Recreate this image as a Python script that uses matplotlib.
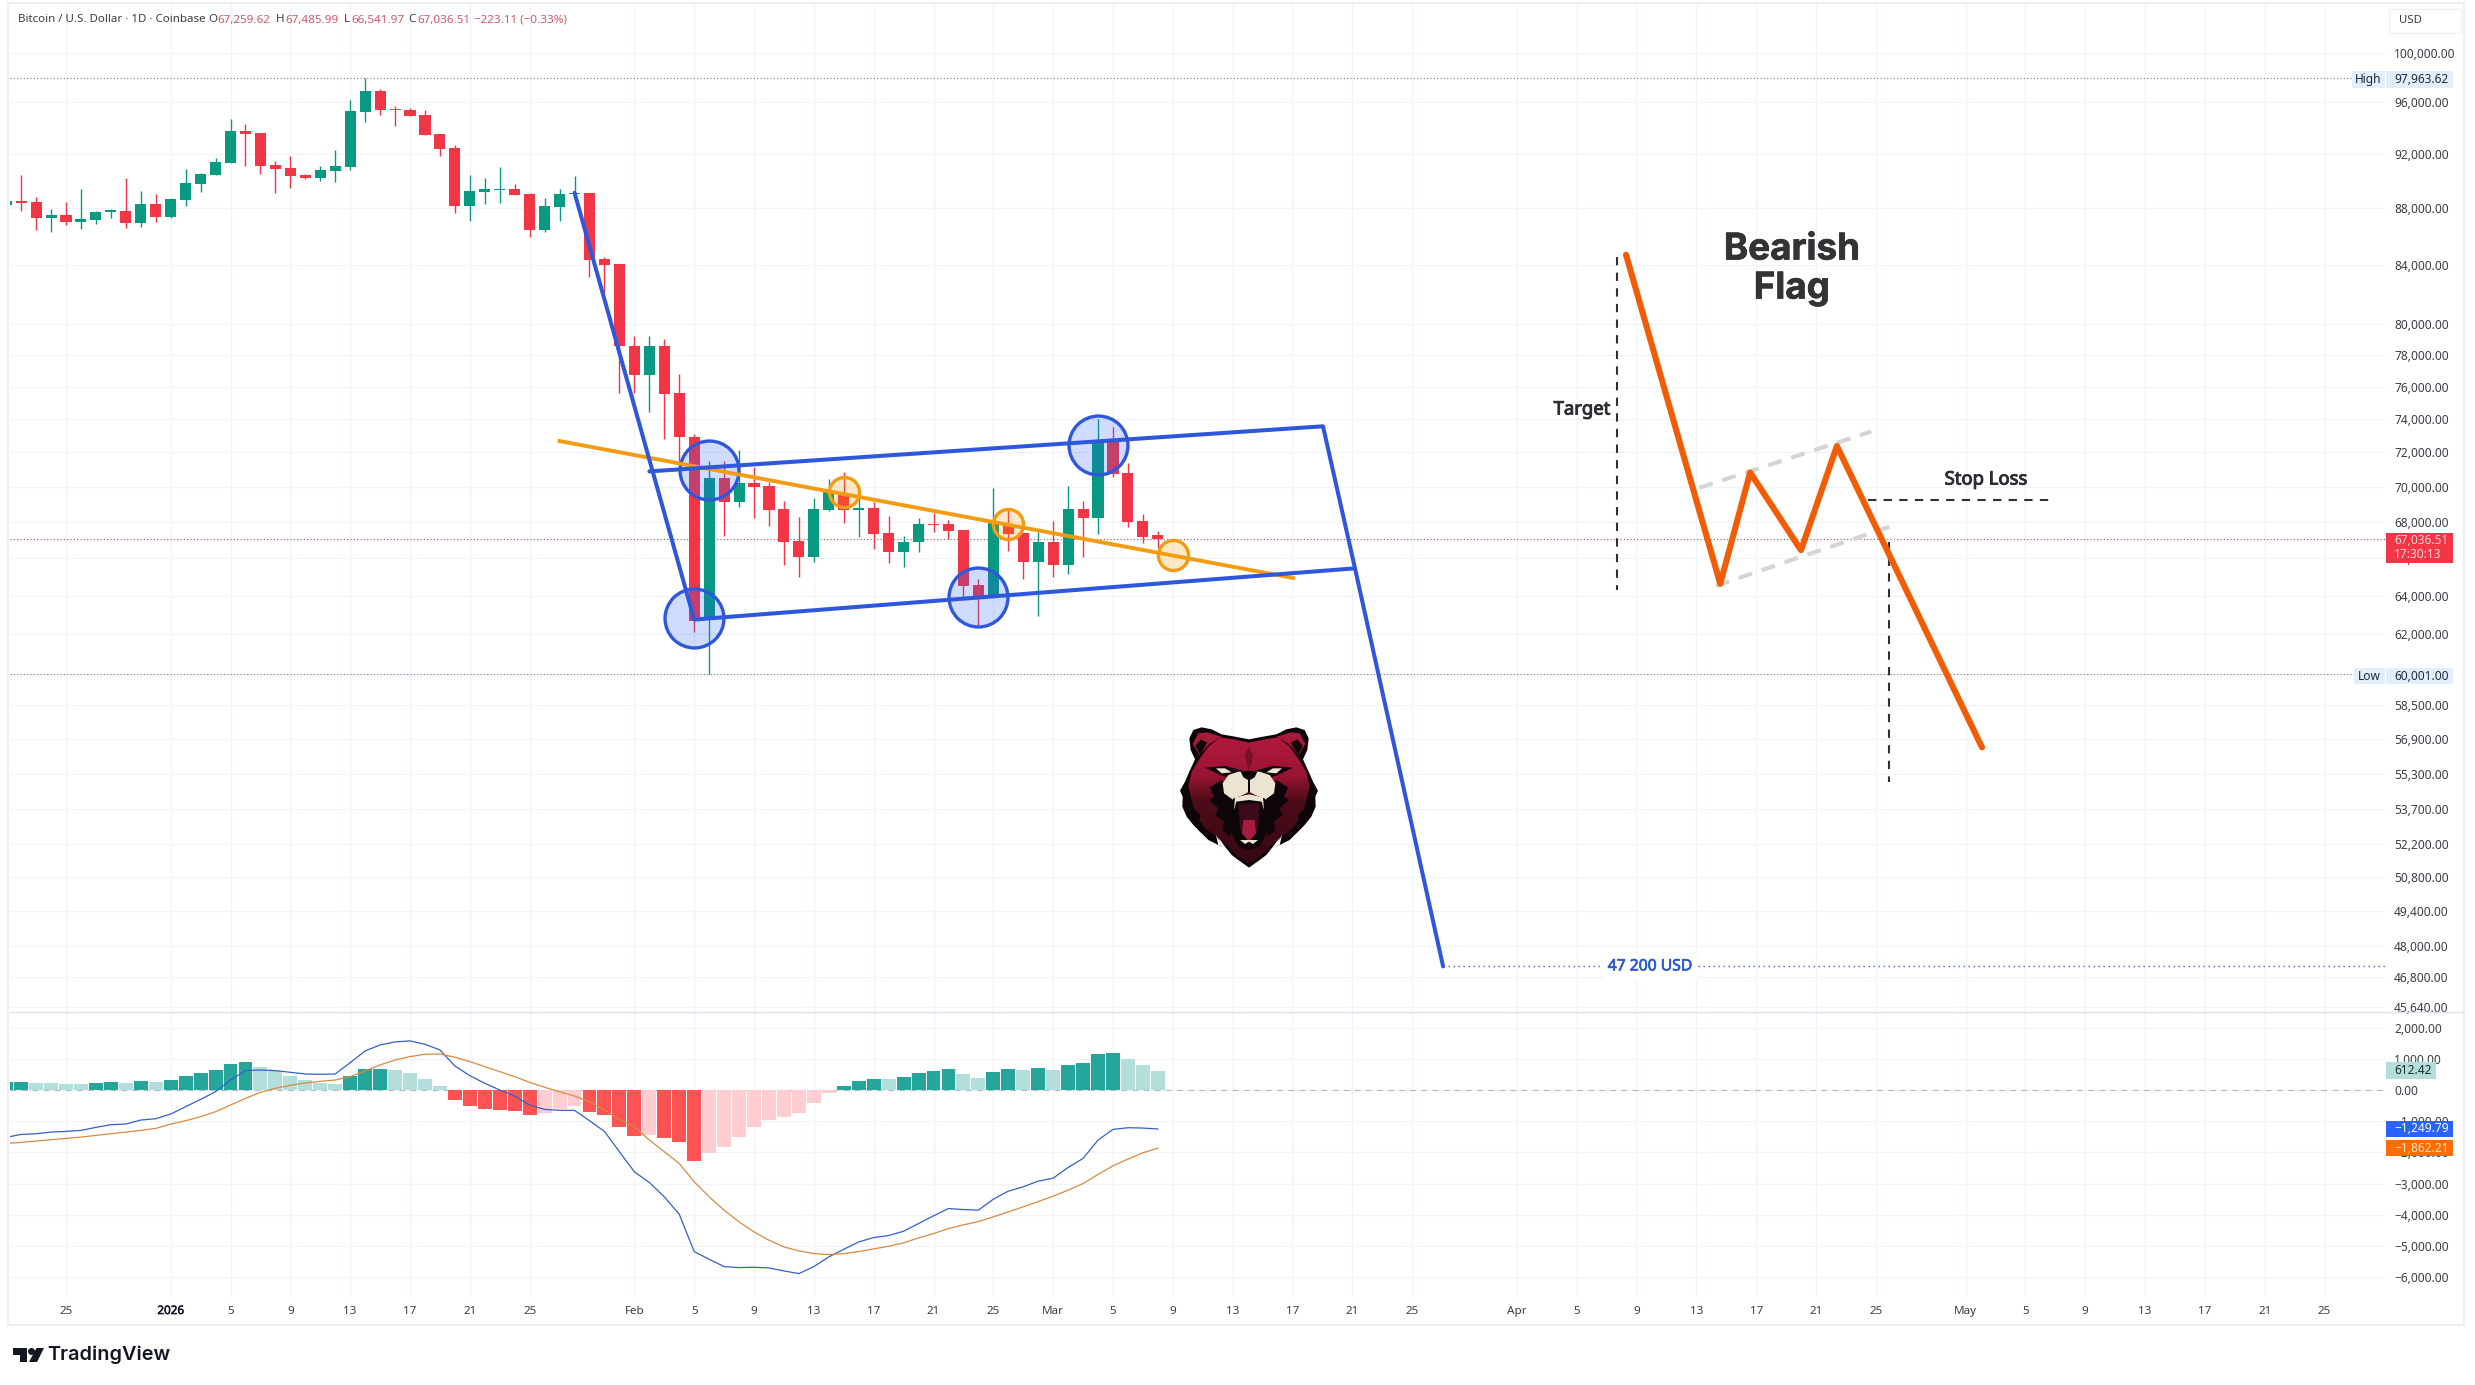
"""
Bitcoin daily chart with bearish flag drawing and MACD pane
"""

import matplotlib

matplotlib.use("Agg")

import matplotlib.patheffects as pe
import matplotlib.pyplot as plt
import numpy as np
from matplotlib.patches import Circle, PathPatch, Polygon, Rectangle
from matplotlib.path import Path
from matplotlib.ticker import FixedLocator, FuncFormatter, NullLocator

plt.rcParams["font.family"] = ["Noto Sans", "DejaVu Sans"]

# days are counted from 2026-01-01, first bar is 2025-12-21
first_day = -11

opens = [88212,
         88526, 88453, 87298, 87512, 87036, 87155, 87754, 87803, 86941, 88308,
         87369, 88598, 89771, 90438, 91334, 93768, 93613, 91183, 90959, 90438,
         90215, 90735, 91033, 95243, 96900, 95505, 95374, 95007, 93536, 92467,
         88164, 89184, 89331, 89405, 89038, 86442, 88092, 89062, 89129, 84415,
         84047, 78589, 76741, 78589, 75622, 72916, 62856, 70479, 69147, 70233,
         70028, 68739, 66928, 66097, 68699, 69659, 68699, 68799, 67405, 66327,
         66868, 67902, 67882, 67564, 64577, 63975, 67843, 67405, 65783, 66908,
         65648, 68739, 68242, 72683, 70786, 68042, 67259.62]
highs = [88598,
         90438, 88842, 87923, 88477, 89405, 87827, 87971, 90240, 89258, 89038,
         88720, 90884, 90586, 91711, 94670, 94283, 93613, 91485, 91862, 90512,
         91108, 92314, 96186, 97963.62, 97060, 95714, 95531, 95400, 93536, 92700,
         90438, 90215, 91033, 89771, 89112, 88744, 89405, 90368, 89129, 84537,
         84047, 79211, 79211, 79027, 76786, 73109, 71518, 71522, 72156, 71142,
         70274, 69187, 68282, 69352, 70438, 70827, 69352, 69147, 68326, 67206,
         68242, 68532, 68122, 67564, 64915, 69945, 68739, 67405, 67445, 68082,
         70069, 69208, 74020, 73542, 71373, 68429, 67485.99]
lows = [88116,
        87827, 86442, 86323, 86799, 86490, 86870, 87298, 86585, 86656, 87036,
        87298, 88164, 89184, 90438, 91334, 91108, 90512, 89112, 89478, 90141,
        89994, 89920, 90810, 94464, 95007, 94155, 94930, 93460, 91862, 87658,
        87084, 88308, 88380, 88964, 85942, 86299, 87084, 89038, 83189, 82092,
        75576, 75576, 74458, 72831, 71522, 62126, 60001, 67246, 68839, 68202,
        67803, 65648, 65012, 65783, 68640, 67962, 67186, 66520, 65764, 65551,
        66365, 67445, 67047, 63882, 62491, 63975, 66424, 64915, 62947, 64973,
        65166, 66076, 67346, 70581, 67703, 66848, 66541.97]
closes = [88502,
          88405, 87298, 87512, 87036, 87226, 87730, 87851, 86941, 88308, 87369,
          88671, 89845, 90512, 91409, 93768, 93536, 91108, 90884, 90364, 90215,
          90810, 91108, 95320, 96900, 95400, 95426, 94930, 93460, 92390, 88164,
          89258, 89405, 89405, 88964, 86442, 88164, 89038, 89135, 84366, 84000,
          78566, 76741, 78589, 75555, 72895, 62674, 70479, 69147, 70233, 70007,
          68699, 66908, 66097, 68739, 69762, 68699, 68799, 67346, 66327, 66888,
          67882, 67823, 67505, 64539, 63975, 67942, 67346, 65783, 66908, 65648,
          68739, 68242, 72683, 70745, 68002, 67146, 67036.51]

macd_hist = [257,
             257, 225, 225, 193, 193, 225, 257, 225, 289, 257,
             321, 449, 546, 642, 835, 899, 738, 610, 449, 321,
             225, 193, 449, 674, 674, 642, 546, 353, 128, -321,
             -514, -610, -642, -674, -803, -738, -610, -514, -706, -803,
             -1188, -1477, -1445, -1541, -1669, -2279, -2022, -1830, -1509, -1188,
             -963, -867, -738, -417, -96, 128, 289, 353, 353, 417,
             546, 610, 674, 514, 385, 578, 674, 642, 706, 642,
             803, 867, 1156, 1188, 995, 803, 612.42]
# D = strong colour, L = pale colour
hist_shade = "DDLLLLDDLDLDDDDDDLLLLLLDDDLLLLDDDDDDLLLDDDDLDDDLLLLLLLLLDDDLDDDDLLDDLDLDDDDLLL"
macd_line = [-1519,
             -1423, -1402, -1348, -1327, -1295, -1198, -1113, -1091, -963, -920,
             -770, -535, -300, -54, 321, 621, 642, 621, 567, 514,
             503, 514, 877, 1252, 1445, 1541, 1573, 1466, 1284, 770,
             460, 214, 0, -193, -482, -621, -653, -653, -984, -1327,
             -1980, -2622, -2964, -3424, -3980, -5179, -5425, -5660, -5692, -5682,
             -5703, -5799, -5885, -5660, -5350, -5104, -4869, -4729, -4665, -4526,
             -4280, -4034, -3799, -3831, -3852, -3499, -3242, -3103, -2921, -2825,
             -2482, -2194, -1605, -1263, -1209, -1220, -1249.79]
signal_line = [-1712,
               -1680, -1637, -1594, -1552, -1509, -1455, -1402, -1348, -1295, -1231,
               -1091, -984, -856, -696, -482, -268, -75, 54, 150, 225,
               278, 321, 428, 610, 803, 963, 1070, 1145, 1156, 1049,
               910, 749, 589, 428, 246, 86, -54, -193, -375, -642,
               -942, -1177, -1605, -1980, -2354, -2943, -3424, -3852, -4227, -4548,
               -4815, -5029, -5157, -5243, -5275, -5243, -5179, -5093, -5008, -4901,
               -4740, -4601, -4441, -4323, -4216, -4066, -3906, -3745, -3574, -3403,
               -3210, -2996, -2707, -2429, -2215, -2012, -1862.21]

price_ticks = [100000, 96000, 92000, 88000, 84000, 80000, 78000, 76000, 74000,
               72000, 70000, 68000, 66000, 64000, 62000, 60000, 58500, 56900,
               55300, 53700, 52200, 50800, 49400, 48000, 46800, 45640]
macd_ticks = [2000, 1000, 0, -1000, -2000, -3000, -4000, -5000, -6000]
date_ticks = [-7, 0, 4, 8, 12, 16, 20, 24, 31, 35, 39, 43, 47, 51, 55, 59, 63, 67,
              71, 75, 79, 83, 90, 94, 98, 102, 106, 110, 114, 120, 124, 128, 132,
              136, 140, 144]
date_labels = ["25", "2026", "5", "9", "13", "17", "21", "25", "Feb", "5", "9", "13",
               "17", "21", "25", "Mar", "5", "9", "13", "17", "21", "25", "Apr", "5",
               "9", "13", "17", "21", "25", "May", "5", "9", "13", "17", "21", "25"]

high_price = 97963.62
low_price = 60001.00
last_price = 67036.51
target_price = 47200

# drawings: (day, price)
impulse_path = [(27, 89129), (35, 62765), (79.18, 65463), (85.07, target_price)]
flag_upper = [(32, 70890), (77.04, 73566), (79.18, 65463)]
orange_trend = [(26.0, 72680), (75.04, 64945)]
blue_circles = [(36, 70994), (35, 62856), (54, 63938), (62, 72470)]
orange_circles = [(45, 69721), (56, 67902), (67, 66174)]

pattern_path = [(97.3, 84706), (103.6, 64636), (105.6, 70825), (109.0, 66446),
                (111.4, 72384), (121.1, 56508)]
pattern_upper = [(102.2, 69940), (113.7, 73250)]
pattern_lower = [(103.3, 64530), (115.1, 67790)]
target_guide = [(96.7, 84577), (96.7, 64326)]
stop_guide = [(113.5, 69245), (125.6, 69245)]
drop_guide = [(114.9, 66910), (114.9, 54937)]

BLUE = "#2f57dc"
ORANGE = "#f39c12"
DEEP_ORANGE = "#f25c05"
RED = "#f23645"
GREEN = "#089981"
GRID = "#f0f3fa"
TEXT = "#3a3d45"
TICK_SIZE = 8.6

W, H = 2475, 1385
LEFT, RIGHT, TOP, SPLIT, BOTTOM = 10, 2385, 5, 1012, 1297
TAG_L, TAG_R, LABEL_X = 2386, 2453, 2394


def price_at(y):
    return 100000 * np.exp(-(y - 52.7) / 1217)


def macd_at(y):
    return (1090 - y) / 0.0312


def day_at(x):
    return (x - 170.7) / 14.957


def add_axes_px(x0, y0, x1, y1, **kwargs):
    return fig.add_axes([x0 / W, 1 - y1 / H, (x1 - x0) / W, (y1 - y0) / H], **kwargs)


def heavy(width, color):
    # the installed variable fonts do not always give a real bold
    return [pe.withStroke(linewidth=width, foreground=color)]


fig = plt.figure(figsize=(W / 100, H / 100), dpi=100, facecolor="white")

ax = add_axes_px(LEFT, TOP, RIGHT, SPLIT)
ax2 = add_axes_px(LEFT, SPLIT, RIGHT, BOTTOM)

# price pane
days = np.arange(first_day, first_day + len(opens))
opens_a, closes_a = np.array(opens), np.array(closes)
up = closes_a >= opens_a
colors = np.where(up, GREEN, RED)

ax.set_yscale("log")
ax.vlines(days, lows, highs, colors=colors, linewidth=1.0, zorder=3)
ax.bar(days, np.maximum(np.abs(closes_a - opens_a), 60), bottom=np.minimum(opens_a, closes_a),
       width=0.74, color=colors, linewidth=0, zorder=3)

ax.set_xlim(day_at(LEFT), day_at(RIGHT))
ax.set_ylim(price_at(SPLIT), price_at(TOP))
ax.yaxis.set_major_locator(FixedLocator(price_ticks))
ax.yaxis.set_minor_locator(NullLocator())
ax.yaxis.set_major_formatter(FuncFormatter(lambda v, _: f"{v:,.2f}"))
ax.yaxis.tick_right()
ax.set_xticks(date_ticks)
ax.tick_params(axis="x", length=0, labelbottom=False)
ax.tick_params(axis="y", length=0, labelsize=TICK_SIZE, labelcolor=TEXT, pad=6.5)
ax.grid(True, color=GRID, linewidth=0.9, zorder=0)
ax.set_axisbelow(True)
for s in ax.spines.values():
    s.set_visible(False)

ax.axhline(high_price, color="#787b86", linewidth=0.8, linestyle=(0, (1, 2)), zorder=2)
ax.axhline(low_price, color="#787b86", linewidth=0.8, linestyle=(0, (1, 2)), zorder=2)
ax.axhline(last_price, color="#a0505c", linewidth=0.8, linestyle=(0, (1, 2)), zorder=2)

ax.scatter(*zip(*blue_circles), s=1800, facecolor=(0.16, 0.38, 1.0, 0.22), edgecolor=BLUE,
           linewidth=2.4, zorder=4)
ax.scatter(*zip(*orange_circles), s=470, facecolor=(1.0, 0.6, 0.0, 0.22), edgecolor=ORANGE,
           linewidth=2.4, zorder=4)

ax.plot(*zip(*orange_trend), color=ORANGE, linewidth=2.8, zorder=5)
for path in (impulse_path, flag_upper):
    ax.plot(*zip(*path), color=BLUE, linewidth=2.9, zorder=6,
            solid_capstyle="round", solid_joinstyle="round")

ax.plot([impulse_path[-1][0], day_at(RIGHT)], [target_price, target_price], color="#4a66a8",
        linewidth=1.0, linestyle=(0, (1, 2.6)), zorder=5)
ax.text(day_at(1650), target_price, "47 200 USD", color="#2a5bd0", fontsize=11.3,
        fontweight="bold", ha="center", va="center", zorder=6,
        path_effects=heavy(0.5, "#2a5bd0"),
        bbox=dict(facecolor="white", edgecolor="none", pad=3))

# the pattern sketch on the right
ax.plot(*zip(*pattern_upper), color="#d5d5d5", linewidth=3, linestyle=(0, (3.4, 2.4)), zorder=4)
ax.plot(*zip(*pattern_lower), color="#d5d5d5", linewidth=3, linestyle=(0, (3.4, 2.4)), zorder=4)
for guide in (target_guide, stop_guide, drop_guide):
    ax.plot(*zip(*guide), color="#2e3036", linewidth=1.5, linestyle=(0, (4, 3.5)), zorder=5)
ax.plot(*zip(*pattern_path), color=DEEP_ORANGE, linewidth=4.4, zorder=5,
        solid_capstyle="round", solid_joinstyle="round")

# MACD pane
hist_colors = []
for value, shade in zip(macd_hist, hist_shade):
    if value >= 0:
        hist_colors.append("#26a69a" if shade == "D" else "#b2dfdb")
    else:
        hist_colors.append("#ff5252" if shade == "D" else "#ffcdd2")
ax2.bar(days, macd_hist, width=0.93, color=hist_colors, linewidth=0, zorder=3)
ax2.plot(days, macd_line, color="#3560c8", linewidth=0.9, zorder=4)
ax2.plot(days, signal_line, color="#d98a3f", linewidth=0.9, zorder=4)
ax2.axhline(0, color="#b5b8c0", linewidth=0.8, linestyle=(0, (5, 5)), zorder=2)

ax2.set_xlim(day_at(LEFT), day_at(RIGHT))
ax2.set_ylim(macd_at(BOTTOM), macd_at(SPLIT))
ax2.yaxis.set_major_locator(FixedLocator(macd_ticks))
ax2.yaxis.set_major_formatter(FuncFormatter(lambda v, _: f"{v:,.2f}".replace("-", "\u2212")))
ax2.yaxis.tick_right()
ax2.set_xticks(date_ticks)
ax2.set_xticklabels(date_labels)
ax2.tick_params(axis="x", length=0, labelsize=8.4, labelcolor=TEXT, pad=6.5)
ax2.tick_params(axis="y", length=0, labelsize=TICK_SIZE, labelcolor=TEXT, pad=6.5)
for label in ax2.get_xticklabels():
    if label.get_text() == "2026":
        label.set_color("#131722")
        label.set_path_effects(heavy(0.4, "#131722"))
ax2.grid(True, color=GRID, linewidth=0.9, zorder=0)
ax2.set_axisbelow(True)
for s in ax2.spines.values():
    s.set_visible(False)

# overlay in pixel coordinates for frame, tags and captions
px = fig.add_axes([0, 0, 1, 1], zorder=10)
px.set_xlim(0, W)
px.set_ylim(H, 0)
px.axis("off")
px.patch.set_alpha(0)

for x0, y0, x1, y1 in [(LEFT - 2, 3, 2464, 3), (2464, 3, 2464, 1325), (LEFT - 2, 1325, 2464, 1325),
                       (LEFT - 2, 3, LEFT - 2, 1325)]:
    px.plot([x0, x1], [y0, y1], color="#eef0f5", linewidth=1.6)
px.plot([LEFT, 2464], [SPLIT, SPLIT], color="#e0e3eb", linewidth=1.0)


def tag(x0, x1, y0, y1, text, face, color):
    px.add_patch(Rectangle((x0, y0), x1 - x0, y1 - y0, facecolor=face, edgecolor="none", zorder=3))
    on_axis = x0 >= TAG_L
    px.text(LABEL_X if on_axis else (x0 + x1) / 2, (y0 + y1) / 2, text, color=color, fontsize=TICK_SIZE,
            ha="left" if on_axis else "center", va="center", zorder=4)


tag(2352, 2385, 71, 87.5, "High", "#e3eefb", "#1f2a44")
tag(TAG_L, TAG_R, 71, 87.5, "97,963.62", "#e3eefb", "#1f2a44")
tag(2354, 2385, 668, 684, "Low", "#e3eefb", "#1f2a44")
tag(TAG_L, TAG_R, 668, 684, "60,001.00", "#e3eefb", "#1f2a44")
tag(TAG_L, TAG_R, 533, 563, "", RED, "white")
px.text(LABEL_X, 541, "67,036.51", color="#ffd5da", fontsize=TICK_SIZE, va="center", zorder=4)
px.text(LABEL_X, 555, "17:30:13", color="#ffd5da", fontsize=TICK_SIZE, va="center", zorder=4)
tag(TAG_L, 2436, 1062, 1079, "612.42", "#b2dfdb", "#1f2a2a")
tag(TAG_L, TAG_R, 1121, 1137, "\u22121,249.79", "#2962ff", "white")
tag(TAG_L, TAG_R, 1140, 1156, "\u22121,862.21", "#ff6d00", "#ffe5d0")

px.add_patch(Rectangle((2389, 9), 72, 24, facecolor="white", edgecolor="#f0f1f4", linewidth=1))
px.text(2399, 20.5, "USD", color=TEXT, fontsize=8.2, va="center")

# legend line on top
px.text(18, 20, "Bitcoin / U.S. Dollar \u00b7 1D \u00b7 Coinbase", color=TEXT, fontsize=8.3, va="center")
for x, letter in [(208, "O"), (276, "H"), (344, "L"), (408.5, "C")]:
    px.text(x, 20, letter, color=TEXT, fontsize=8.3, va="center")
for x, value in [(217, "67,259.62"), (285, "67,485.99"), (351, "66,541.97"), (417, "67,036.51"),
                 (474, "\u2212223.11 (\u22120.33%)")]:
    px.text(x, 20, value, color="#d8566a", fontsize=8.4, va="center")

# captions of the pattern
px.text(1791.8, 250, "Bearish", color="#333336", fontsize=26.5, fontweight="bold", family="Inter",
        ha="center", va="center", path_effects=heavy(0.5, "#333336"))
px.text(1791.8, 289, "Flag", color="#333336", fontsize=26.5, fontweight="bold", family="Inter",
        ha="center", va="center", path_effects=heavy(0.5, "#333336"))
px.text(1582, 409.5, "Target", color="#2b2d33", fontsize=13.3, fontweight="bold", ha="center", va="center",
        path_effects=heavy(0.7, "#2b2d33"))
px.text(1986, 479.5, "Stop Loss", color="#2b2d33", fontsize=13.3, fontweight="bold", ha="center", va="center",
        path_effects=heavy(0.7, "#2b2d33"))

# the clipped date label at the left border
clipped = px.text(6, 1311.7, "21", color=TEXT, fontsize=8.4, ha="center", va="center", clip_on=True)
clipped.set_clip_path(Rectangle((LEFT, 1295), 30, 30, transform=px.transData))

# TradingView mark
px.add_patch(Polygon([(13, 1348), (27, 1348), (27, 1362), (20, 1362), (20, 1355), (13, 1355)],
                     facecolor="#131722", edgecolor="none"))
px.add_patch(Circle((31.5, 1351.5), 3.5, facecolor="#131722", edgecolor="none"))
px.add_patch(Polygon([(36.5, 1348), (44, 1348), (37, 1362), (29, 1362)], facecolor="#131722", edgecolor="none"))
px.text(47, 1355, "TradingView", color="#131722", fontsize=14.3, fontweight="semibold", family="Inter",
        va="center")

# bear logo, coordinates of the crop are 3x
bear = add_axes_px(1150, 700, 1370, 900, zorder=8)
bear.set_xlim(0, 660)
bear.set_ylim(600, 0)
bear.axis("off")
bear.patch.set_alpha(0)


def both_sides(half):
    return half + [(594 - x, y) for x, y in reversed(half)]


def shape(points, color, mirror=True, z=2):
    if mirror:
        bear.add_patch(Polygon(points, facecolor=color, edgecolor="none", zorder=z))
        bear.add_patch(Polygon([(594 - x, y) for x, y in points], facecolor=color, edgecolor="none", zorder=z))
    else:
        bear.add_patch(Polygon(both_sides(points), facecolor=color, edgecolor="none", zorder=z))


shape([(297, 118), (255, 110), (215, 103), (185, 88), (155, 82), (130, 90), (118, 115), (122, 150),
       (135, 178), (118, 215), (105, 245), (90, 272), (98, 290), (97, 320), (110, 350), (130, 375),
       (155, 400), (175, 420), (215, 440), (200, 405), (225, 440), (245, 465), (262, 478), (297, 503)],
      "#0d0507", mirror=False, z=1)
shape([(128, 132), (145, 100), (170, 97), (215, 110), (178, 132), (148, 165)], "#a81a3a")
shape([(136, 138), (152, 118), (172, 128), (150, 165)], "#120608", z=3)

face_half = [(297, 128), (250, 118), (210, 112), (175, 140), (150, 175), (125, 215), (115, 260),
             (125, 300), (135, 340), (165, 385), (205, 415), (235, 440), (262, 468), (297, 490)]
face_path = Path(both_sides(face_half) + [face_half[0]], closed=True)
ramp = np.array([[0.70, 0.10, 0.24], [0.60, 0.08, 0.20], [0.30, 0.05, 0.10], [0.20, 0.03, 0.07]])
rows = np.interp(np.linspace(0, 1, 200), [0, 0.3, 0.5, 1], [0, 1, 2, 3])
img = np.zeros((200, 1, 3))
for c in range(3):
    img[:, 0, c] = np.interp(rows, [0, 1, 2, 3], ramp[:, c])
grad = bear.imshow(img, extent=(90, 500, 500, 110), aspect="auto", zorder=2)
grad.set_clip_path(PathPatch(face_path, transform=bear.transData))
bear.set_xlim(0, 660)
bear.set_ylim(600, 0)

# black fur down the cheeks
shape([(215, 240), (180, 262), (192, 290), (178, 300), (205, 325), (195, 345), (222, 365), (218, 390),
       (240, 410), (258, 300)], "#0d0507", z=3)
shape([(125, 320), (150, 345), (148, 375), (175, 392), (185, 420), (150, 395), (125, 360)], "#0d0507", z=3)
shape([(165, 203), (225, 198), (280, 212), (297, 225), (297, 240), (240, 235), (210, 225)], "#14060a", z=3)
shape([(297, 140), (285, 165), (290, 190), (297, 210), (303, 190), (309, 165)], "#7a1028", mirror=False, z=3)
shape([(198, 205), (225, 205), (245, 217), (215, 220)], "#efe6d8", z=4)
shape([(297, 215), (265, 215), (235, 225), (218, 250), (222, 280), (250, 300), (297, 275)], "#ece3d0",
      mirror=False, z=4)
shape([(297, 212), (272, 215), (280, 232), (294, 240), (294, 275), (297, 278)], "#0d0507", mirror=False, z=5)
shape([(297, 280), (250, 295), (235, 340), (245, 400), (265, 440), (297, 450)], "#0d0507", mirror=False, z=5)
shape([(297, 283), (255, 292), (252, 330), (259, 305), (297, 300)], "#ece3d0", mirror=False, z=6)
shape([(297, 310), (265, 310), (270, 390), (297, 415)], "#3c0a18", mirror=False, z=6)
shape([(297, 360), (280, 360), (276, 400), (297, 425)], "#a51c3f", mirror=False, z=7)
shape([(270, 420), (285, 432), (297, 425), (297, 440), (272, 440)], "#ece3d0", mirror=False, z=7)
shape([(198, 405), (217, 440), (205, 435)], "white", z=8)

fig.savefig("out.png", dpi=100)
